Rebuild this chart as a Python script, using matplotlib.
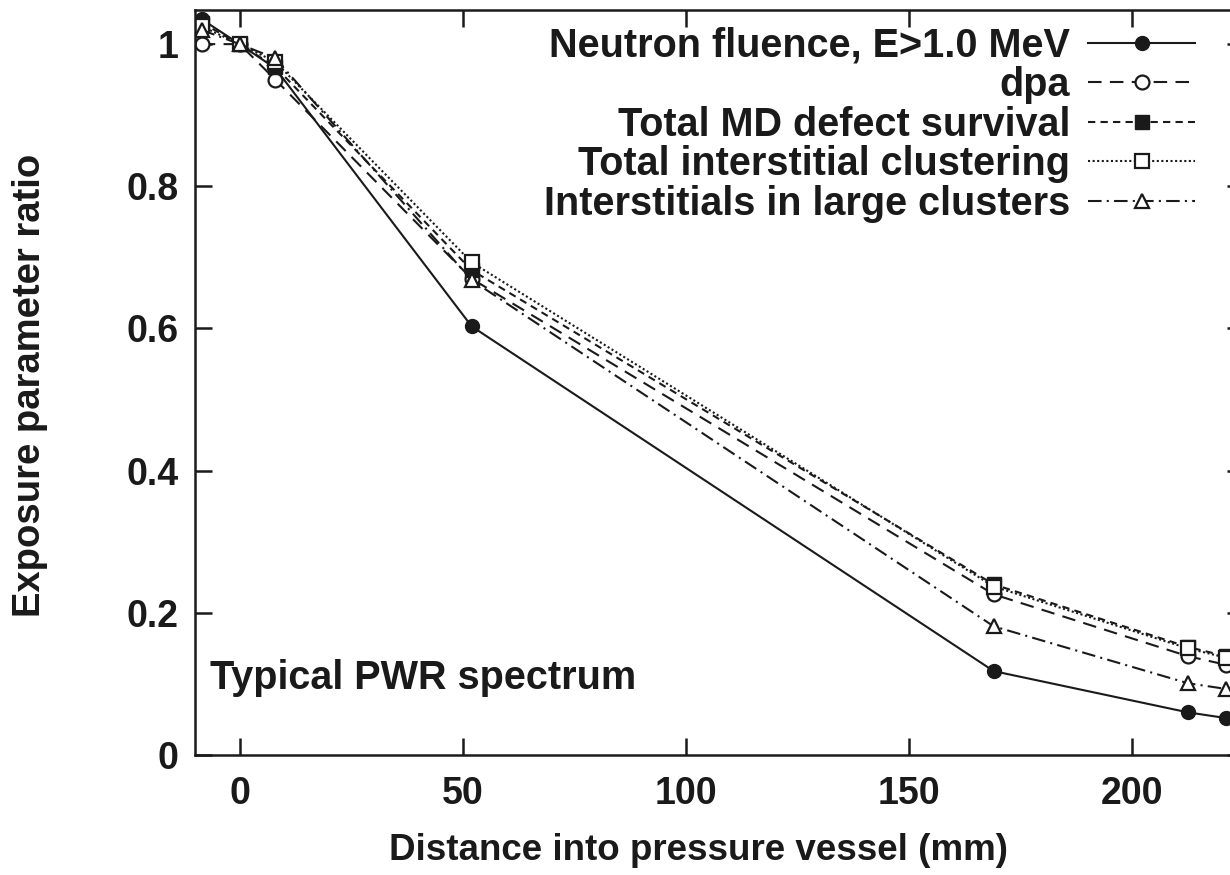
import matplotlib
matplotlib.use("Agg")
from matplotlib import pyplot as plt

plt.rcParams['font.family'] = ['Liberation Sans', 'DejaVu Sans']
plt.rcParams['font.weight'] = 'bold'

# distance into vessel (mm)
x = [-8.5, 0, 8, 52, 169, 212.5, 221]

fluence = [1.035, 1.0, 0.966, 0.603, 0.118, 0.060, 0.052]
dpa = [1.0, 1.0, 0.950, 0.670, 0.226, 0.139, 0.127]
md_survival = [1.030, 1.0, 0.968, 0.682, 0.240, 0.152, 0.139]
int_clustering = [1.025, 1.0, 0.975, 0.693, 0.237, 0.150, 0.137]
large_clusters = [1.020, 1.0, 0.980, 0.668, 0.181, 0.101, 0.093]

labels = ["Neutron fluence, E>1.0 MeV", "dpa", "Total MD defect survival",
          "Total interstitial clustering", "Interstitials in large clusters"]

yticks = [0, 0.2, 0.4, 0.6, 0.8, 1]
ytick_labels = ["0", "0.2", "0.4", "0.6", "0.8", "1"]
xticks = [0, 50, 100, 150, 200]

k = "#1a1a1a"
fig = plt.figure(figsize=(12.3, 8.75), dpi=100)
ax = fig.add_axes([195/1230, 120/875, 1048.6/1230, 745/875])

ax.plot(x, fluence, color=k, lw=1.5, ls='-', marker='o', ms=10, mfc=k, mec=k, label=labels[0])
ax.plot(x, dpa, color=k, lw=1.5, ls=(0, (6.5, 4)), marker='o', ms=10, mfc='white', mec=k, mew=1.6, label=labels[1])
ax.plot(x, md_survival, color=k, lw=1.5, ls=(0, (3.5, 2.5)), marker='s', ms=9.5, mfc=k, mec=k, label=labels[2])
ax.plot(x, int_clustering, color=k, lw=1.5, ls=(0, (1, 1.2)), marker='s', ms=9.5, mfc='white', mec=k, mew=1.6, label=labels[3])
ax.plot(x, large_clusters, color=k, lw=1.5, ls=(0, (6.5, 2.5, 1, 2.5)), marker='^', ms=10, mfc='white', mec=k, mew=1.6, label=labels[4])

ax.set_xlim(-10, 225)
ax.set_ylim(0, 1.048)
ax.set_xticks(xticks)
ax.set_yticks(yticks)
ax.set_yticklabels(ytick_labels)
ax.tick_params(direction='in', length=12, width=1.8, top=True, right=True,
               labelsize=27, colors=k)
ax.tick_params(axis='x', pad=15)
ax.tick_params(axis='y', pad=12)
for s in ax.spines.values():
    s.set_linewidth(1.8)
    s.set_color(k)

leg = ax.legend(loc='upper right', bbox_to_anchor=(0.9537, 0.978), frameon=False,
                markerfirst=False, fontsize=28.5, handlelength=2.7, handletextpad=0.45,
                labelspacing=0.04, borderpad=0, borderaxespad=0, numpoints=1)
for t in leg.get_texts():
    t.set_ha('right')
    t.set_color(k)

ax.text(0.0143, 0.103, "Typical PWR spectrum", transform=ax.transAxes, fontsize=28.5,
        color=k, va='center', ha='left')

fig.text(699/1230, 25/875, "Distance into pressure vessel (mm)", fontsize=26.5,
         color=k, ha='center', va='center')
fig.text(30/1230, 490/875, "Exposure parameter ratio", fontsize=27.5, color=k,
         ha='center', va='center', rotation=90)

plt.savefig("out.png", dpi=100)
